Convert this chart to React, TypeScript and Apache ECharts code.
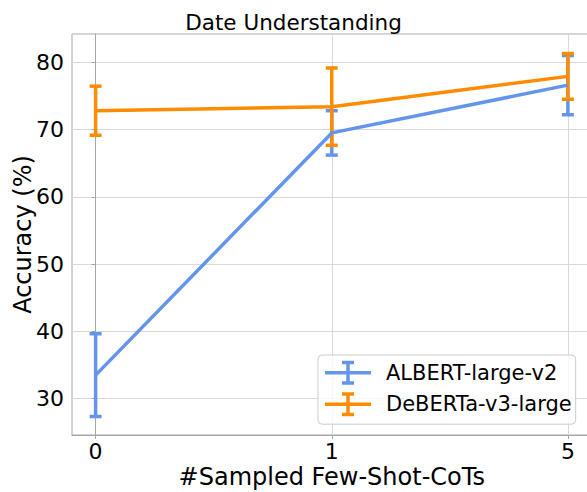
import React, { useEffect, useRef } from "react";
import * as echarts from "echarts";

const xLabels = ["0", "1", "5"];
const xPositions = [0, 1, 2];
const albertMean = [33.5, 69.5, 76.6];
const albertErr = [6.15, 3.3, 4.4];
const debertaMean = [72.8, 73.4, 77.9];
const debertaErr = [3.65, 5.75, 3.4];

const BLUE = "#6495ED";
const ORANGE = "#FF8C00";
const FONT = "DejaVu Sans";
const LEGEND_ICON =
  "path://M0,10.25h46v3.5h-46z M21.25,0h3.5v24h-3.5z M17,0h12v3.5h-12z M17,20.5h12v3.5h-12z";

function errSeries(name: string, mean: number[], err: number[], color: string) {
  return {
    type: "custom",
    name,
    data: xPositions.map((x, i) => [x, mean[i] - err[i], mean[i] + err[i]]),
    encode: { x: 0, y: [1, 2] },
    renderItem: (_params: any, api: any) => {
      const x = api.value(0);
      const top = api.coord([x, api.value(2)]);
      const bot = api.coord([x, api.value(1)]);
      const hw = 6;
      const style = { stroke: color, lineWidth: 3.5, fill: null };
      return {
        type: "group",
        children: [
          { type: "line", shape: { x1: top[0], y1: top[1], x2: bot[0], y2: bot[1] }, style },
          { type: "line", shape: { x1: top[0] - hw, y1: top[1], x2: top[0] + hw, y2: top[1] }, style },
          { type: "line", shape: { x1: bot[0] - hw, y1: bot[1], x2: bot[0] + hw, y2: bot[1] }, style },
        ],
      };
    },
  };
}

function lineSeries(name: string, mean: number[], color: string) {
  return {
    type: "line",
    name,
    data: xPositions.map((x, i) => [x, mean[i]]),
    showSymbol: false,
    symbol: "none",
    lineStyle: { color, width: 3.5 },
    itemStyle: { color },
  };
}

export default function App() {
  const ref = useRef<HTMLDivElement>(null);
  useEffect(() => {
    if (!ref.current) return;
    const chart = echarts.init(ref.current, null, { renderer: "svg" });
    chart.setOption({
      animation: false,
      textStyle: { fontFamily: FONT },
      title: {
        text: "Date Understanding",
        left: "center",
        top: 6,
        textStyle: { fontFamily: FONT, fontSize: 21.5, fontWeight: "normal", color: "#000" },
      },
      grid: {
        left: 72,
        top: 34,
        width: 519.5,
        height: 401,
        outerBoundsMode: "none",
        containLabel: false,
        show: true,
        borderColor: "#a6a6a6",
        borderWidth: 1,
        backgroundColor: "transparent",
      },
      legend: {
        orient: "vertical",
        left: 318,
        top: 355,
        padding: [5.7, 4, 8, 7],
        itemWidth: 46,
        itemHeight: 24,
        itemGap: 7.5,
        backgroundColor: "rgba(255,255,255,0.8)",
        borderColor: "#cccccc",
        borderWidth: 1,
        borderRadius: 4,
        textStyle: { fontFamily: FONT, fontSize: 21, color: "#000", padding: [0, 0, 0, 10] },
        data: [
          { name: "ALBERT-large-v2", icon: LEGEND_ICON, itemStyle: { color: BLUE } },
          { name: "DeBERTa-v3-large", icon: LEGEND_ICON, itemStyle: { color: ORANGE } },
        ],
      },
      xAxis: {
        type: "value",
        min: -0.1,
        max: 2.1,
        name: "#Sampled Few-Shot-CoTs",
        nameLocation: "middle",
        nameGap: 30,
        nameMoveOverlap: false,
        nameTextStyle: { fontFamily: FONT, fontSize: 24, color: "#000" },
        axisLine: { show: true, lineStyle: { color: "#a6a6a6", width: 1 } },
        axisTick: { show: true, length: 4, customValues: xPositions, lineStyle: { color: "#a6a6a6" } },
        axisLabel: {
          customValues: xPositions,
          formatter: (v: number) => xLabels[Math.round(v)] ?? "",
          fontFamily: FONT,
          fontSize: 22,
          color: "#000",
          margin: 5,
        },
        splitLine: { show: true, lineStyle: { color: "#d9d9d9", width: 1 } },
      },
      yAxis: {
        type: "value",
        min: 24.6,
        max: 84.2,
        name: "Accuracy (%)",
        nameLocation: "middle",
        nameGap: 37,
        nameMoveOverlap: false,
        nameTextStyle: { fontFamily: FONT, fontSize: 24, color: "#000" },
        axisLine: { show: true, lineStyle: { color: "#a6a6a6", width: 1 } },
        axisTick: { show: true, length: 4, lineStyle: { color: "#a6a6a6" } },
        axisLabel: {
          showMinLabel: false,
          showMaxLabel: false,
          fontFamily: FONT,
          fontSize: 22,
          color: "#000",
          margin: 8,
        },
        splitLine: { show: true, lineStyle: { color: "#d9d9d9", width: 1 } },
      },
      series: [
        lineSeries("ALBERT-large-v2", albertMean, BLUE),
        errSeries("ALBERT-large-v2", albertMean, albertErr, BLUE),
        lineSeries("DeBERTa-v3-large", debertaMean, ORANGE),
        errSeries("DeBERTa-v3-large", debertaMean, debertaErr, ORANGE),
      ],
    });
    return () => chart.dispose();
  }, []);
  return (
    <div
      ref={ref}
      style={{ position: "absolute", left: 0, top: 0, width: 587, height: 492, background: "#fff" }}
    />
  );
}
